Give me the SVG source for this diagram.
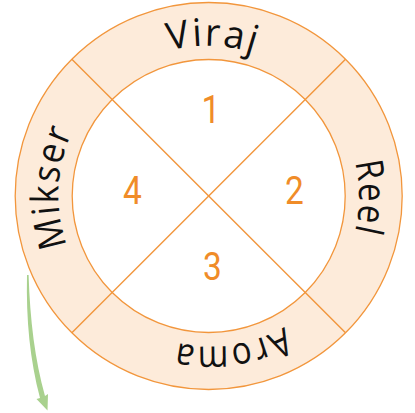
<svg xmlns="http://www.w3.org/2000/svg" xmlns:xlink="http://www.w3.org/1999/xlink" width="415" height="413" viewBox="0 0 415 413">
<defs>
<style>
.ring{fill:#FDEBDA;stroke:#F2963C;stroke-width:1.3}
.inner{fill:#FFFFFF;stroke:#F2963C;stroke-width:1.3}
.line{stroke:#F2963C;stroke-width:1.4;fill:none}
.lbl{font-family:"Open Sans","Noto Sans",sans-serif;font-size:38px;fill:#111;letter-spacing:2px}
.num{font-family:Roboto,"Liberation Sans",sans-serif;font-size:38px;fill:#F08C28;text-anchor:middle}
</style>
<path id="tp" d="M 103.36 301.36 A 149 149 0 1 1 314.04 90.64 A 149 149 0 1 1 103.36 301.36"/>
</defs>
<g id="ring">
<circle class="ring" cx="208.7" cy="196" r="193.5"/>
<circle class="inner" cx="208.7" cy="196" r="136.5"/>
</g>
<g id="connectors">
<line class="line" x1="71.9" y1="59.2" x2="345.5" y2="332.8"/>
<line class="line" x1="345.5" y1="59.2" x2="71.9" y2="332.8"/>
<path d="M 27 275 C 26 320 30 360 40 398 L 36.5 399 L 47.5 410.5 L 48 394 L 45 396 C 35 360 30 320 28.6 275 Z" fill="#A9D18E"/>
</g>
<g id="label-mikser"><text class="lbl"><textPath xlink:href="#tp" href="#tp" startOffset="126" text-anchor="middle" textLength="118" lengthAdjust="spacingAndGlyphs">Mikser</textPath></text></g>
<g id="label-viraj"><text class="lbl"><textPath xlink:href="#tp" href="#tp" startOffset="358" text-anchor="middle" textLength="88" lengthAdjust="spacingAndGlyphs">Viraj</textPath></text></g>
<g id="label-reel"><text class="lbl"><textPath xlink:href="#tp" href="#tp" startOffset="591" text-anchor="middle" textLength="72" lengthAdjust="spacingAndGlyphs">Reel</textPath></text></g>
<g id="label-aroma"><text class="lbl"><textPath xlink:href="#tp" href="#tp" startOffset="803" text-anchor="middle" textLength="112" lengthAdjust="spacingAndGlyphs">Aroma</textPath></text></g>
<g id="n1"><text class="num" transform="translate(211,123) scale(0.88,1)">1</text></g>
<g id="n2"><text class="num" transform="translate(294.5,204) scale(0.88,1)">2</text></g>
<g id="n3"><text class="num" transform="translate(212.5,280) scale(0.88,1)">3</text></g>
<g id="n4"><text class="num" transform="translate(132.5,204) scale(0.88,1)">4</text></g>
</svg>
